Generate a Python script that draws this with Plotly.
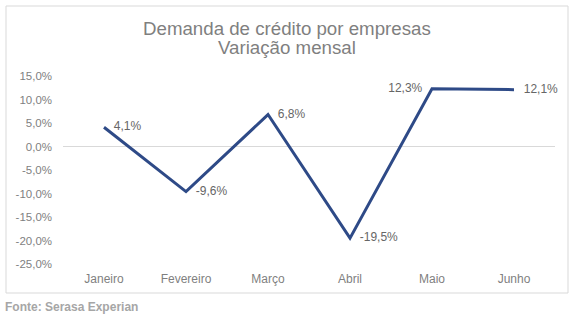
import plotly.graph_objects as go

# Monthly variation in business credit demand (%)
meses = ["Janeiro", "Fevereiro", "Março", "Abril", "Maio", "Junho"]
variacao = [4.1, -9.6, 6.8, -19.5, 12.3, 12.1]
posicao_rotulo = ["middle right", "middle right", "middle right",
                  "middle right", "middle left", "middle right"]
y_ticks = [15, 10, 5, 0, -5, -10, -15, -20, -25]
titulo = ["Demanda de crédito por empresas", "Variação mensal"]
fonte = "Fonte: Serasa Experian"


def pct(v):
    return f"{v:.1f}".replace(".", ",") + "%"


W, H = 579, 323
L, R, T, B = 63, 24, 76, 59
pw, ph = W - L - R, H - T - B
FAM = "Liberation Sans, Arial"

fig = go.Figure()
fig.add_trace(go.Scatter(
    x=meses, y=variacao,
    mode="lines",
    line=dict(color="#2E4A87", width=3),
    hoverinfo="skip",
))
# value labels, pushed off the line by invisible markers
fig.add_trace(go.Scatter(
    x=meses, y=variacao,
    mode="markers+text",
    marker=dict(size=14, opacity=0),
    text=[pct(v) for v in variacao],
    textposition=posicao_rotulo,
    textfont=dict(family=FAM, size=12, color="#666666"),
    cliponaxis=False,
    hoverinfo="skip",
))


def px_x(p):
    return (p - L) / pw


def px_y(p):
    return 1 - (p - T) / ph


# outer chart frame
fig.add_shape(type="rect", xref="paper", yref="paper",
              x0=px_x(6), x1=px_x(568), y0=px_y(293), y1=px_y(6),
              line=dict(color="#D9D9D9", width=1), fillcolor="rgba(0,0,0,0)",
              layer="below")

# two-line title, tight line spacing
notas = [dict(
    text=linha, xref="paper", yref="paper",
    x=px_x(287), y=px_y(yy), xanchor="center", yanchor="middle",
    showarrow=False,
    font=dict(family=FAM, size=18.7, color="#7F7F7F"),
) for linha, yy in zip(titulo, [28, 48])]
notas.append(dict(
    text=f"<b>{fonte}</b>",
    xref="paper", yref="paper",
    x=px_x(3), y=px_y(307), xanchor="left", yanchor="middle",
    showarrow=False,
    font=dict(family=FAM, size=12, color="#A6A6A6"),
))

fig.update_layout(
    width=W, height=H,
    margin=dict(l=L, r=R, t=T, b=B),
    paper_bgcolor="white", plot_bgcolor="white",
    showlegend=False,
    xaxis=dict(
        showgrid=False, showline=False, zeroline=False,
        ticks="", ticklabelstandoff=6,
        tickfont=dict(family=FAM, size=12, color="#7F7F7F"),
        range=[-0.5, 5.5], fixedrange=True,
    ),
    yaxis=dict(
        range=[-25, 15],
        tickvals=y_ticks,
        ticktext=[pct(v) for v in y_ticks],
        showgrid=False, showline=False,
        zeroline=True, zerolinecolor="#D9D9D9", zerolinewidth=1,
        ticks="", ticklabelstandoff=10,
        tickfont=dict(family=FAM, size=11.5, color="#7F7F7F"),
        fixedrange=True,
    ),
    annotations=notas,
)

fig.write_html("out.html")
